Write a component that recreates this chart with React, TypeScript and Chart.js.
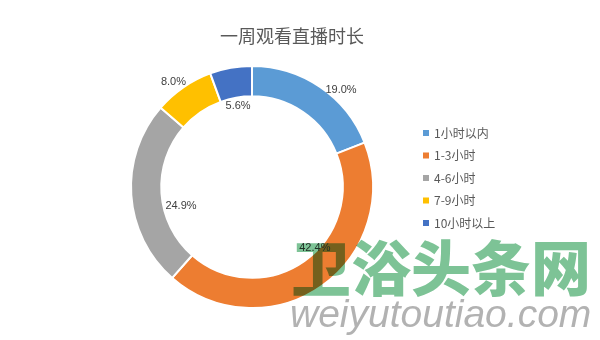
import React, { useEffect, useRef } from "react";
import { Chart, registerables } from "chart.js";

Chart.register(...registerables);

const TITLE = "一周观看直播时长";
const categories = ["1小时以内", "1-3小时", "4-6小时", "7-9小时", "10小时以上"];
const values = [19.0, 42.4, 24.9, 8.0, 5.6];
const colors = ["#5B9BD5", "#ED7D31", "#A5A5A5", "#FFC000", "#4472C4"];
// label placement style: angle shift (deg) and radius ratio relative to outer radius
const labelAngleShift = [8.3, -10.6, -10.9, -2.1, 0.3];
const labelRadiusRatio = [1.088, 0.725, 0.607, 1.086, 0.678];
const WATERMARK_CN = "卫浴头条网";
const WATERMARK_EN = "weiyutoutiao.com";

const overlayPlugin = {
  id: "overlay",
  afterDatasetsDraw(chart: any) {
    const ctx = chart.ctx;
    const meta = chart.getDatasetMeta(0);
    ctx.save();
    // title
    ctx.fillStyle = "#595959";
    ctx.font = "18px 'Noto Sans CJK SC'";
    ctx.textAlign = "center";
    ctx.textBaseline = "middle";
    ctx.fillText(TITLE, 292, 36);

    // data labels
    ctx.font = "11px 'Liberation Sans'";
    ctx.fillStyle = "#404040";
    meta.data.forEach((arc: any, i: number) => {
      const p = arc.getProps(["x", "y", "startAngle", "endAngle", "outerRadius"], true);
      const mid = (p.startAngle + p.endAngle) / 2 + (labelAngleShift[i] * Math.PI) / 180;
      const r = p.outerRadius * labelRadiusRatio[i];
      const x = p.x + Math.cos(mid) * r;
      const y = p.y + Math.sin(mid) * r;
      ctx.fillText(values[i].toFixed(1) + "%", x, y);
    });

    // legend
    const lx = 423;
    const ly0 = 133;
    const step = 22.5;
    ctx.textAlign = "left";
    ctx.font = "12px 'Noto Sans CJK SC'";
    categories.forEach((c, i) => {
      const y = ly0 + i * step;
      ctx.fillStyle = colors[i];
      ctx.fillRect(lx, y - 3, 6, 6);
      ctx.fillStyle = "#595959";
      ctx.fillText(c, lx + 11, y);
    });

    // watermark
    ctx.globalCompositeOperation = "multiply";
    ctx.fillStyle = "rgb(125,195,150)";
    ctx.font = "900 60px 'Noto Sans CJK SC'";
    ctx.textBaseline = "middle";
    ctx.fillText(WATERMARK_CN, 291, 268, 305);
    ctx.globalCompositeOperation = "source-over";
    ctx.fillStyle = "rgba(170,170,170,0.9)";
    ctx.font = "italic 39px 'Liberation Sans'";
    ctx.textBaseline = "alphabetic";
    ctx.fillText(WATERMARK_EN, 290, 327, 303);
    ctx.restore();
  },
};

export default function App() {
  const ref = useRef<HTMLCanvasElement | null>(null);
  useEffect(() => {
    if (!ref.current) return;
    const chart = new Chart(ref.current, {
      type: "doughnut",
      data: {
        labels: categories,
        datasets: [
          {
            data: values,
            backgroundColor: colors,
            borderColor: "#ffffff",
            borderWidth: 2,
            hoverOffset: 0,
            hoverBorderWidth: 2,
          },
        ],
      },
      options: {
        animation: false,
        responsive: false,
        cutout: "75%",
        layout: { padding: { left: 130, right: 226, top: 65, bottom: 31 } },
        plugins: {
          legend: { display: false },
          title: { display: false },
          tooltip: { enabled: false },
        },
        events: [],
      },
      plugins: [overlayPlugin],
    });
    return () => chart.destroy();
  }, []);
  return (
    <div style={{ position: "fixed", left: 0, top: 0, width: 600, height: 340, background: "#fff" }}>
      <canvas ref={ref} width={600} height={340} style={{ width: 600, height: 340 }} />
    </div>
  );
}
